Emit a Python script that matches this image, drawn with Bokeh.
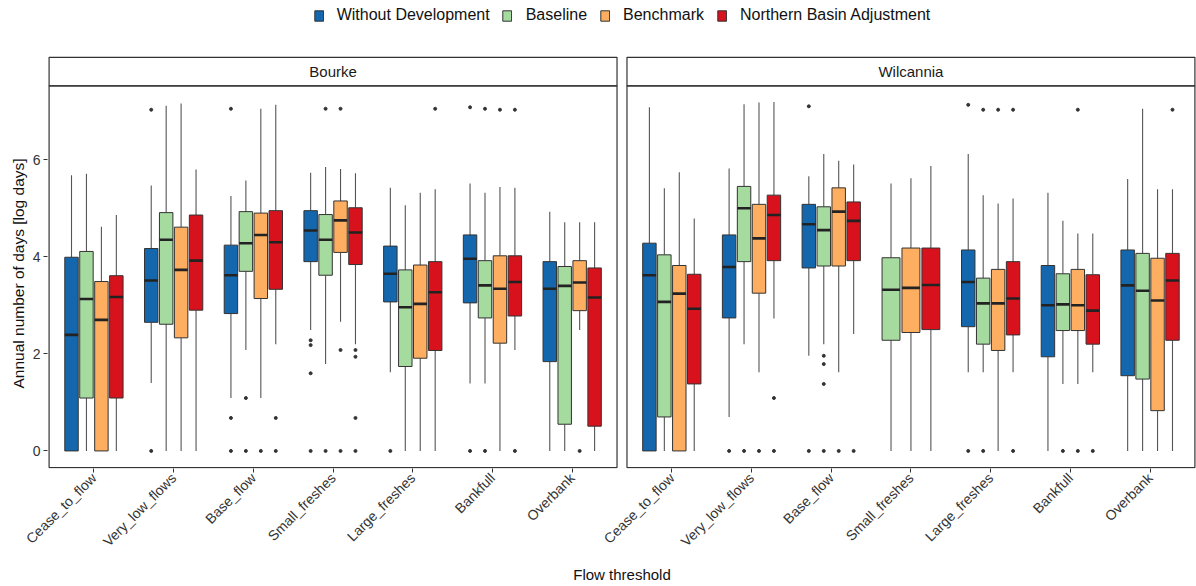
import numpy as np
from bokeh.plotting import figure
from bokeh.models import (ColumnDataSource, FixedTicker, Legend, LegendItem, Range1d, Title)
from bokeh.core.properties import value
from bokeh.embed import file_html
from bokeh.resources import INLINE

categories = ["Cease_to_flow", "Very_low_flows", "Base_flow", "Small_freshes",
              "Large_freshes", "Bankfull", "Overbank"]
sites = ["Bourke", "Wilcannia"]
series = ["Without Development", "Baseline", "Benchmark", "Northern Basin Adjustment"]
colors = ["#1467ad", "#a6dba0", "#fdae61", "#d8121c"]

# ---- Bourke (rows: series, columns: categories) ----
bourke_low = [
    [0, 1.40, 1.09, 2.49, 1.62, 1.39, 0],
    [0, 0, 2.08, 1.79, 0, 1.39, 0],
    [0, 0, 1.09, 2.66, 0, 0, 2.49],
    [0, 0, 2.20, 2.20, 0, 2.08, 0],
]
bourke_q1 = [
    [0, 2.65, 2.83, 3.90, 3.07, 3.05, 1.84],
    [1.09, 2.61, 3.70, 3.62, 1.74, 2.74, 0.55],
    [0, 2.33, 3.14, 4.09, 1.91, 2.22, 2.89],
    [1.09, 2.90, 3.33, 3.84, 2.07, 2.78, 0.51],
]
bourke_median = [
    [2.39, 3.51, 3.62, 4.54, 3.65, 3.96, 3.34],
    [3.13, 4.35, 4.28, 4.35, 2.96, 3.41, 3.40],
    [2.70, 3.73, 4.45, 4.75, 3.03, 3.34, 3.47],
    [3.17, 3.92, 4.30, 4.50, 3.27, 3.48, 3.16],
]
bourke_q3 = [
    [3.99, 4.17, 4.24, 4.95, 4.22, 4.45, 3.90],
    [4.11, 4.91, 4.93, 4.87, 3.73, 3.92, 3.80],
    [3.49, 4.61, 4.90, 5.15, 3.83, 4.02, 3.92],
    [3.61, 4.86, 4.95, 5.01, 3.90, 4.02, 3.77],
]
bourke_high = [
    [5.68, 5.47, 5.25, 5.73, 5.42, 5.51, 4.93],
    [5.71, 7.11, 5.57, 5.85, 5.06, 5.32, 4.71],
    [4.62, 7.16, 7.05, 5.81, 5.32, 5.44, 4.71],
    [4.86, 5.80, 7.13, 5.72, 5.39, 5.42, 4.71],
]
# (series index, category index, value)
bourke_outliers = [
    (0, 1, 7.03), (0, 1, 0), (0, 2, 7.05), (0, 2, 0.68), (0, 2, 0),
    (0, 3, 2.28), (0, 3, 2.18), (0, 3, 1.60), (0, 3, 0), (0, 4, 0),
    (0, 5, 7.08), (0, 5, 0),
    (1, 2, 1.09), (1, 2, 0), (1, 3, 7.05), (1, 3, 0), (1, 5, 7.05), (1, 5, 0),
    (2, 2, 0), (2, 3, 7.05), (2, 3, 2.08), (2, 3, 0), (2, 5, 7.03), (2, 6, 0),
    (3, 2, 0.68), (3, 2, 0), (3, 3, 2.08), (3, 3, 1.94), (3, 3, 0.68), (3, 3, 0),
    (3, 4, 7.05), (3, 5, 7.03), (3, 5, 0),
]

# ---- Wilcannia ----
wilcannia_low = [
    [0, 0.70, 1.96, None, 1.62, 0, 0],
    [0, 2.20, 2.20, 0, 1.62, 1.38, 0],
    [0, 1.62, 1.62, 0, 0, 1.38, 0],
    [0, 2.73, 2.41, 0, 1.62, 1.62, 0],
]
wilcannia_q1 = [
    [0, 2.74, 3.77, None, 2.56, 1.94, 1.55],
    [0.70, 3.90, 3.81, 2.28, 2.20, 2.48, 1.48],
    [0, 3.25, 3.81, 2.44, 2.07, 2.48, 0.83],
    [1.38, 3.92, 3.92, 2.50, 2.39, 2.20, 2.28],
]
wilcannia_median = [
    [3.62, 3.79, 4.67, None, 3.48, 3.00, 3.41],
    [3.07, 5.00, 4.55, 3.32, 3.04, 3.02, 3.30],
    [3.24, 4.38, 4.93, 3.36, 3.04, 3.00, 3.10],
    [2.93, 4.86, 4.74, 3.42, 3.14, 2.89, 3.51],
]
wilcannia_q3 = [
    [4.28, 4.45, 5.08, None, 4.14, 3.82, 4.14],
    [4.04, 5.45, 5.03, 3.98, 3.56, 3.65, 4.07],
    [3.82, 5.08, 5.42, 4.18, 3.74, 3.74, 3.97],
    [3.64, 5.27, 5.13, 4.18, 3.90, 3.63, 4.07],
]
wilcannia_high = [
    [7.08, 5.82, 5.66, None, 6.12, 5.32, 5.60],
    [5.41, 7.14, 6.12, 5.51, 5.27, 4.74, 7.05],
    [5.74, 7.18, 5.98, 5.62, 5.10, 4.48, 5.39],
    [4.79, 7.19, 5.90, 5.87, 5.20, 4.48, 5.39],
]
wilcannia_outliers = [
    (0, 1, 0), (0, 2, 7.10), (0, 2, 0), (0, 4, 7.13), (0, 4, 0),
    (1, 1, 0), (1, 2, 1.96), (1, 2, 1.79), (1, 2, 1.38), (1, 2, 0),
    (1, 4, 7.03), (1, 4, 0), (1, 5, 0),
    (2, 1, 0), (2, 2, 0), (2, 4, 7.03), (2, 5, 7.03), (2, 5, 0),
    (3, 1, 1.09), (3, 1, 0), (3, 2, 0), (3, 4, 7.03), (3, 4, 0), (3, 5, 0), (3, 6, 7.03),
]

site_data = [
    (bourke_low, bourke_q1, bourke_median, bourke_q3, bourke_high, bourke_outliers),
    (wilcannia_low, wilcannia_q1, wilcannia_median, wilcannia_q3, wilcannia_high, wilcannia_outliers),
]

# ---- layout of the two facet panels (data units along x) ----
EXP = 0.5625
GAP = 0.125
ncat = len(categories)
panel_w = (ncat - 1) + 2 * EXP
panel_left = [1 - EXP, 1 - EXP + panel_w + GAP]
cat_first = [pl + EXP for pl in panel_left]
panel_right = [pl + panel_w for pl in panel_left]
PANEL_BOTTOM = -0.342
STRIP_BOTTOM = 7.52
STRIP_TOP = 8.11
DODGE = 0.75

FONT = "Liberation Sans"
DARK = "#333333"

p = figure(width=1196, height=586, output_backend="svg", toolbar_location=None,
           x_range=Range1d(panel_left[0] - 0.02, panel_right[1] + 0.02),
           y_range=Range1d(-0.362, 9.28),
           min_border_left=47, min_border_right=0, min_border_top=0, min_border_bottom=115,
           background_fill_color="white", border_fill_color="white")
p.outline_line_color = None
p.xgrid.visible = False
p.ygrid.visible = False

# strips and panel borders
p.quad(left=panel_left, right=panel_right, bottom=STRIP_BOTTOM, top=STRIP_TOP,
       fill_color="white", line_color=DARK, line_width=1.2)
p.quad(left=panel_left, right=panel_right, bottom=PANEL_BOTTOM, top=STRIP_BOTTOM,
       fill_color=None, line_color=DARK, line_width=1.2)
p.text(x=[(l + r) / 2 for l, r in zip(panel_left, panel_right)],
       y=[(STRIP_BOTTOM + STRIP_TOP) / 2] * 2, text=sites,
       text_font=value(FONT), text_font_size="15px", text_color="#1a1a1a",
       text_align="center", text_baseline="middle")

# build per-series sources
box_renderers = []
for si in range(len(series)):
    cols = dict(x=[], w=[], lo=[], q1=[], med=[], q3=[], hi=[], xl=[], xr=[])
    ox, oy = [], []
    for s, (lo, q1, med, q3, hi, outl) in enumerate(site_data):
        for c in range(ncat):
            if med[si][c] is None:
                continue
            present = [k for k in range(len(series)) if site_data[s][2][k][c] is not None]
            n = len(present)
            slot = DODGE / n
            pos = present.index(si)
            xc = cat_first[s] + c - DODGE / 2 + slot * (pos + 0.5)
            w = slot * 0.9
            cols["x"].append(xc); cols["w"].append(w)
            cols["xl"].append(xc - w / 2); cols["xr"].append(xc + w / 2)
            cols["lo"].append(lo[si][c]); cols["q1"].append(q1[si][c])
            cols["med"].append(med[si][c]); cols["q3"].append(q3[si][c])
            cols["hi"].append(hi[si][c])
        for (k, c, v) in outl:
            if k != si:
                continue
            present = [kk for kk in range(len(series)) if site_data[s][2][kk][c] is not None]
            n = len(present)
            slot = DODGE / n
            pos = present.index(si)
            ox.append(cat_first[s] + c - DODGE / 2 + slot * (pos + 0.5))
            oy.append(v)
    src = ColumnDataSource(cols)
    p.segment(x0="x", x1="x", y0="q3", y1="hi", source=src, line_color="#555555", line_width=1.1)
    p.segment(x0="x", x1="x", y0="lo", y1="q1", source=src, line_color="#555555", line_width=1.1)
    r = p.vbar(x="x", width="w", top="q3", bottom="q1", source=src,
               fill_color=colors[si], line_color=DARK, line_width=1.0)
    p.segment(x0="xl", x1="xr", y0="med", y1="med", source=src, line_color="#222222", line_width=2.6)
    p.scatter(x=ox, y=oy, size=3.0, fill_color="#333333", line_color="#333333")
    box_renderers.append(r)

# axes
tick_pos = [cat_first[s] + c for s in range(2) for c in range(ncat)]
p.xaxis.ticker = FixedTicker(ticks=tick_pos)
p.xaxis.major_label_overrides = {t: categories[i % ncat] for i, t in enumerate(tick_pos)}
p.xaxis.major_label_orientation = np.pi / 4
p.xaxis.axis_line_color = None
p.xaxis.minor_tick_line_color = None
p.xaxis.major_tick_line_color = DARK
p.xaxis.major_tick_out = 4
p.xaxis.major_tick_in = 0
p.xaxis.major_label_standoff = 3
p.xaxis.major_label_text_font = FONT
p.xaxis.major_label_text_font_size = "14px"
p.xaxis.major_label_text_color = DARK
p.xaxis.axis_label = "Flow threshold"
p.xaxis.axis_label_text_font = FONT
p.xaxis.axis_label_text_font_size = "15px"
p.xaxis.axis_label_text_font_style = "normal"
p.xaxis.axis_label_text_color = "#111111"
p.xaxis.axis_label_standoff = 8

p.yaxis.ticker = FixedTicker(ticks=[0, 2, 4, 6])
p.yaxis.axis_line_color = None
p.yaxis.minor_tick_line_color = None
p.yaxis.major_tick_line_color = DARK
p.yaxis.major_tick_out = 4
p.yaxis.major_tick_in = 0
p.yaxis.major_label_standoff = 3
p.yaxis.major_label_text_font = FONT
p.yaxis.major_label_text_font_size = "14px"
p.yaxis.major_label_text_color = DARK

ytitle = Title(text="Annual number of days [log days]", align="left", offset=80,
               text_font=FONT, text_font_size="15.5px", text_font_style="normal",
               text_color="#111111", standoff=6)
p.add_layout(ytitle, "left")

legend = Legend(items=[LegendItem(label=series[i], renderers=[box_renderers[i]]) for i in range(len(series))],
                orientation="horizontal", location="top_center",
                label_text_font=FONT, label_text_font_size="16px", label_text_color="#111111",
                glyph_width=11, glyph_height=13, label_standoff=13, spacing=12,
                padding=2, margin=6, border_line_color=None, background_fill_alpha=0)
p.add_layout(legend, "center")

open("out.html", "w").write(file_html(p, INLINE))
